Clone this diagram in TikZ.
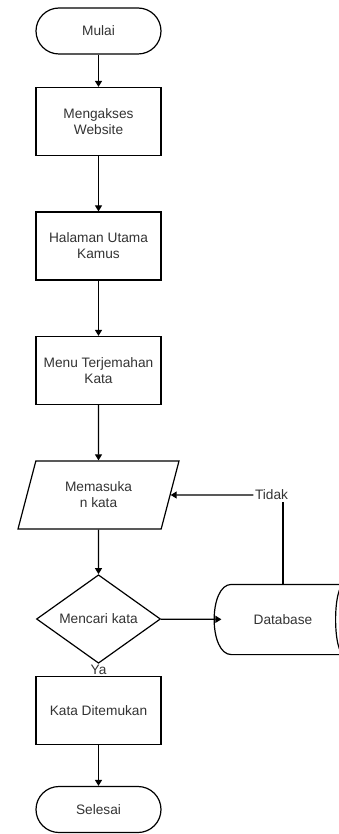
\documentclass[tikz,border=0pt]{standalone}
\usepackage{fontspec}
\setmainfont{Liberation Sans}
\usetikzlibrary{shapes.geometric,arrows.meta}
\begin{document}
\begin{tikzpicture}[x=1pt,y=-1pt,line width=1.2pt,font=\fontsize{13.7}{16}\selectfont,
 every node/.style={text=black!80,align=center},
 proc/.style={draw,minimum width=125pt,minimum height=68pt},
 term/.style={draw,rounded corners=23pt,minimum width=125pt,minimum height=46pt},
 arr/.style={-{Triangle[length=6pt,width=7pt]}}]
 \useasboundingbox (0,0) rectangle (338,834);
 \node[term] (mulai) at (98.5,31) {Mulai}; \node[term] (selesai) at (98.5,809.5) {Selesai};
 \foreach \n/\y/\t in {web/121.5/{Mengakses\\Website},hal/246/{Halaman Utama\\Kamus},menu/370.5/{Menu Terjemahan\\Kata},kd/710.5/{Kata Ditemukan}}{\node[proc] (\n) at (98.5,\y) {\t};}
 \node[draw,trapezium,trapezium left angle=61.4,trapezium right angle=118.6,trapezium stretches body,minimum width=161pt,minimum height=68pt] (in) at (98.5,495) {Memasuka\\n kata};
 \node[draw,diamond,minimum width=124pt,minimum height=68pt,inner sep=0pt] (dec) at (98.5,619) {Mencari kata};
 \node[minimum width=122pt,minimum height=69pt] (db) at (283,619.5) {Database};
 \draw ([xshift=10pt]db.north west) -- (db.north east) .. controls ([xshift=-12pt]db.north east) and ([xshift=-12pt]db.south east) .. (db.south east) -- ([xshift=10pt]db.south west) .. controls ([xshift=-13pt]db.south west) and ([xshift=-13pt]db.north west) .. cycle;
 \node[inner sep=1pt] (tidak) at (271.5,495) {Tidak};
 % arus utama
 \foreach \a/\b in {mulai/web,web/hal,hal/menu,kd/selesai}{\draw[arr] (\a) -- (\b);}
 \draw[arr] (menu) -- (in); \draw[arr] (in) -- (dec); \draw[arr] (dec) -- (db);
 \draw (db.north) -- (db.north |- tidak.south); \draw[arr] (tidak) -- (in.east);
 \draw (dec.south) -- node[fill=white,inner sep=1pt]{Ya} (kd.north);
\end{tikzpicture}
\end{document}
